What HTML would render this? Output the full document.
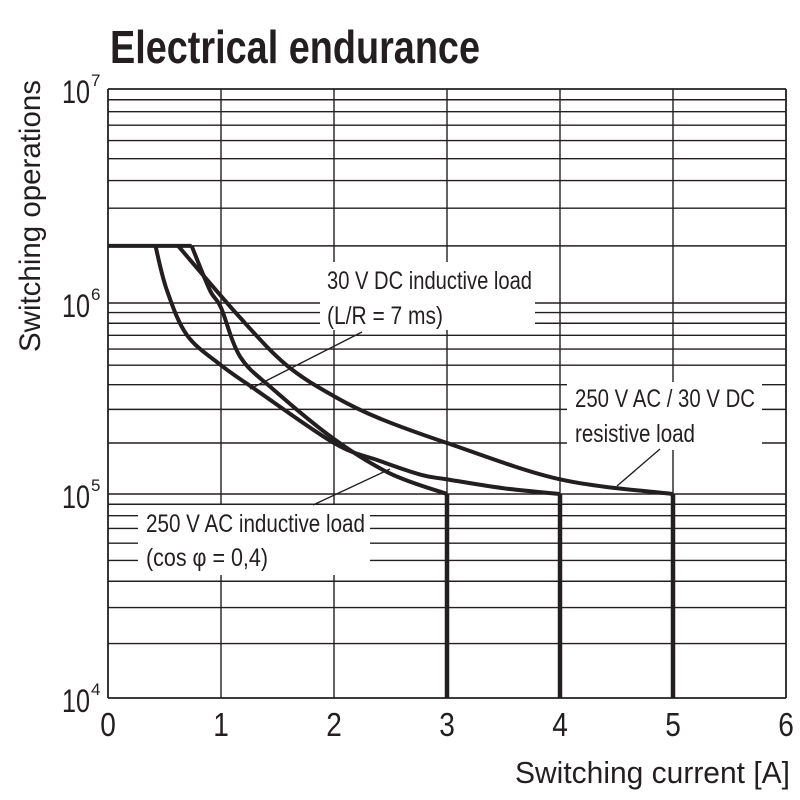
<!DOCTYPE html>
<html><head><meta charset="utf-8"><style>
html,body{margin:0;padding:0;background:#fff}
svg{display:block}
text{font-family:"Liberation Sans",sans-serif;fill:#231f20}
</style></head><body>
<svg id="chart" width="800" height="800" viewBox="0 0 800 800" xmlns="http://www.w3.org/2000/svg">
<text x="110" y="63" font-size="46" font-weight="bold" textLength="370" lengthAdjust="spacingAndGlyphs">Electrical endurance</text>
<text transform="translate(40,352) rotate(-90)" font-size="30" textLength="272" lengthAdjust="spacingAndGlyphs">Switching operations</text>
<text x="515" y="783" font-size="31" textLength="275" lengthAdjust="spacingAndGlyphs">Switching current [A]</text>
<g id="grid"></g>
<g id="masks"></g>
<g id="series"></g>
<g id="labels"></g>
</svg>
<script>
const xTicks = [0,1,2,3,4,5,6];
const yExponents = [4,5,6,7];
const seriesNames = ["250-v-ac-inductive","30-v-dc-inductive","resistive"];
const plateauValue = 2e6;
const acInductiveX = [0.42,0.52,0.7,1.0,1.3,2.0,2.4,2.77,3.0,3.5,4.0];
const acInductiveY = [2e6,1.2e6,7e5,5e5,3.8e5,2.0e5,1.6e5,1.33e5,1.25e5,1.1e5,1e5];
const dcInductiveX = [0.74,0.9,1.0,1.17,1.46,2.0,2.5,3.0];
const dcInductiveY = [2e6,1.2e6,9.5e5,5.5e5,3.8e5,2.1e5,1.35e5,1e5];
const resistiveX = [0.62,1.17,1.58,2.0,2.4,3.0,4.0,5.0];
const resistiveY = [2e6,8.5e5,5e5,3.5e5,2.7e5,2.0e5,1.25e5,1e5];
const endCurrents = [3,4,5];

const NS="http://www.w3.org/2000/svg";
const X0=108,X1=786,YT=89,YB=698;
const decadeTop={4:698,5:494,6:303,7:89};
const xs=v=>X0+(X1-X0)*v/6;
function ys(v){const l=Math.log10(v);let d=Math.floor(l+1e-9);if(d>=7)return decadeTop[7];if(d<4)d=4;
 const f=Math.pow(Math.max(0,l-d),1.1);return decadeTop[d]-(decadeTop[d]-decadeTop[d+1])*f;}
function mk(tag,attrs,parent){const e=document.createElementNS(NS,tag);for(const k in attrs)e.setAttribute(k,attrs[k]);parent.appendChild(e);return e;}
const grid=document.getElementById('grid');
for(let d=4;d<7;d++){for(let m=1;m<10;m++){const v=m*Math.pow(10,d);if(m===1&&d===4)continue;
 const l=mk('line',{x1:X0,x2:X1,y1:ys(v),y2:ys(v),stroke:'#231f20','stroke-width':1.4},grid);
 
 }}
xTicks.forEach(t=>{
 const l=mk('line',{x1:xs(t),x2:xs(t),y1:YT,y2:YB,stroke:'#231f20','stroke-width':(t===0||t===6)?1.8:1.4},grid);
 
 
 const tx=mk('text',{x:xs(t),y:736,'font-size':33,'text-anchor':'middle',transform:`translate(${xs(t)*0.15},0) scale(0.85,1)`},grid);tx.textContent=t;
 
 
});
mk('line',{x1:X0,x2:X1,y1:YT,y2:YT,stroke:'#231f20','stroke-width':1.8},grid);
mk('line',{x1:X0,x2:X1,y1:YB,y2:YB,stroke:'#231f20','stroke-width':1.8},grid);
yExponents.forEach(e=>{
 const tx=mk('text',{x:62,y:ys(Math.pow(10,e))+14,'font-size':32,textLength:28,lengthAdjust:'spacingAndGlyphs'},grid);tx.textContent='10';
 
 
 const s=mk('text',{x:91,y:ys(Math.pow(10,e))-3,'font-size':17},grid);s.textContent=e;
 
 
});
const masks=document.getElementById('masks');
[[320,262,215,68],[567,382,195,68],[138,505,232,70]].forEach(b=>{
 const r=mk('rect',{x:b[0],y:b[1],width:b[2],height:b[3],fill:'#fff'},masks);
 
 
});
const ser=document.getElementById('series');
function smooth(pts){let d=`M${pts[0][0]},${pts[0][1]}`;
 for(let i=0;i<pts.length-1;i++){const p0=pts[i-1]||pts[i],p1=pts[i],p2=pts[i+1],p3=pts[i+2]||p2;
  d+=` C${p1[0]+(p2[0]-p0[0])/6},${p1[1]+(p2[1]-p0[1])/6} ${p2[0]-(p3[0]-p1[0])/6},${p2[1]-(p3[1]-p1[1])/6} ${p2[0]},${p2[1]}`;}
 return d;}
const plateau=mk('line',{x1:X0,x2:xs(dcInductiveX[0]),y1:ys(plateauValue),y2:ys(plateauValue),stroke:'#231f20','stroke-width':4},ser);


[[acInductiveX,acInductiveY],[dcInductiveX,dcInductiveY],[resistiveX,resistiveY]].forEach((s,i)=>{
 const pts=s[0].map((x,j)=>[xs(x),ys(s[1][j])]);
 const p=mk('path',{d:smooth(pts),fill:'none',stroke:'#231f20','stroke-width':4,'stroke-linejoin':'round'},ser);
 
 
});
endCurrents.forEach(c=>{
 const l=mk('line',{x1:xs(c),x2:xs(c),y1:ys(1e5),y2:YB,stroke:'#231f20','stroke-width':4.5},ser);
 
 
});
const lab=document.getElementById('labels');
[[327,289,'30 V DC inductive load',205],[327,324,'(L/R = 7 ms)',116],[575,407,'250 V AC / 30 V DC',180],[575,442,'resistive load',120],[146,532,'250 V AC inductive load',219],[146,566,'(cos φ = 0,4)',122]].forEach(t=>{
 const tx=mk('text',{x:t[0],y:t[1],'font-size':25,textLength:t[3],lengthAdjust:'spacingAndGlyphs'},lab);tx.textContent=t[2];
 
 
});
[[362,332,250,389],[660,449,617,486],[313,505,390,469]].forEach(l=>{
 const e=mk('line',{x1:l[0],y1:l[1],x2:l[2],y2:l[3],stroke:'#231f20','stroke-width':1.4},lab);
 
 
});
</script>
</body></html>
